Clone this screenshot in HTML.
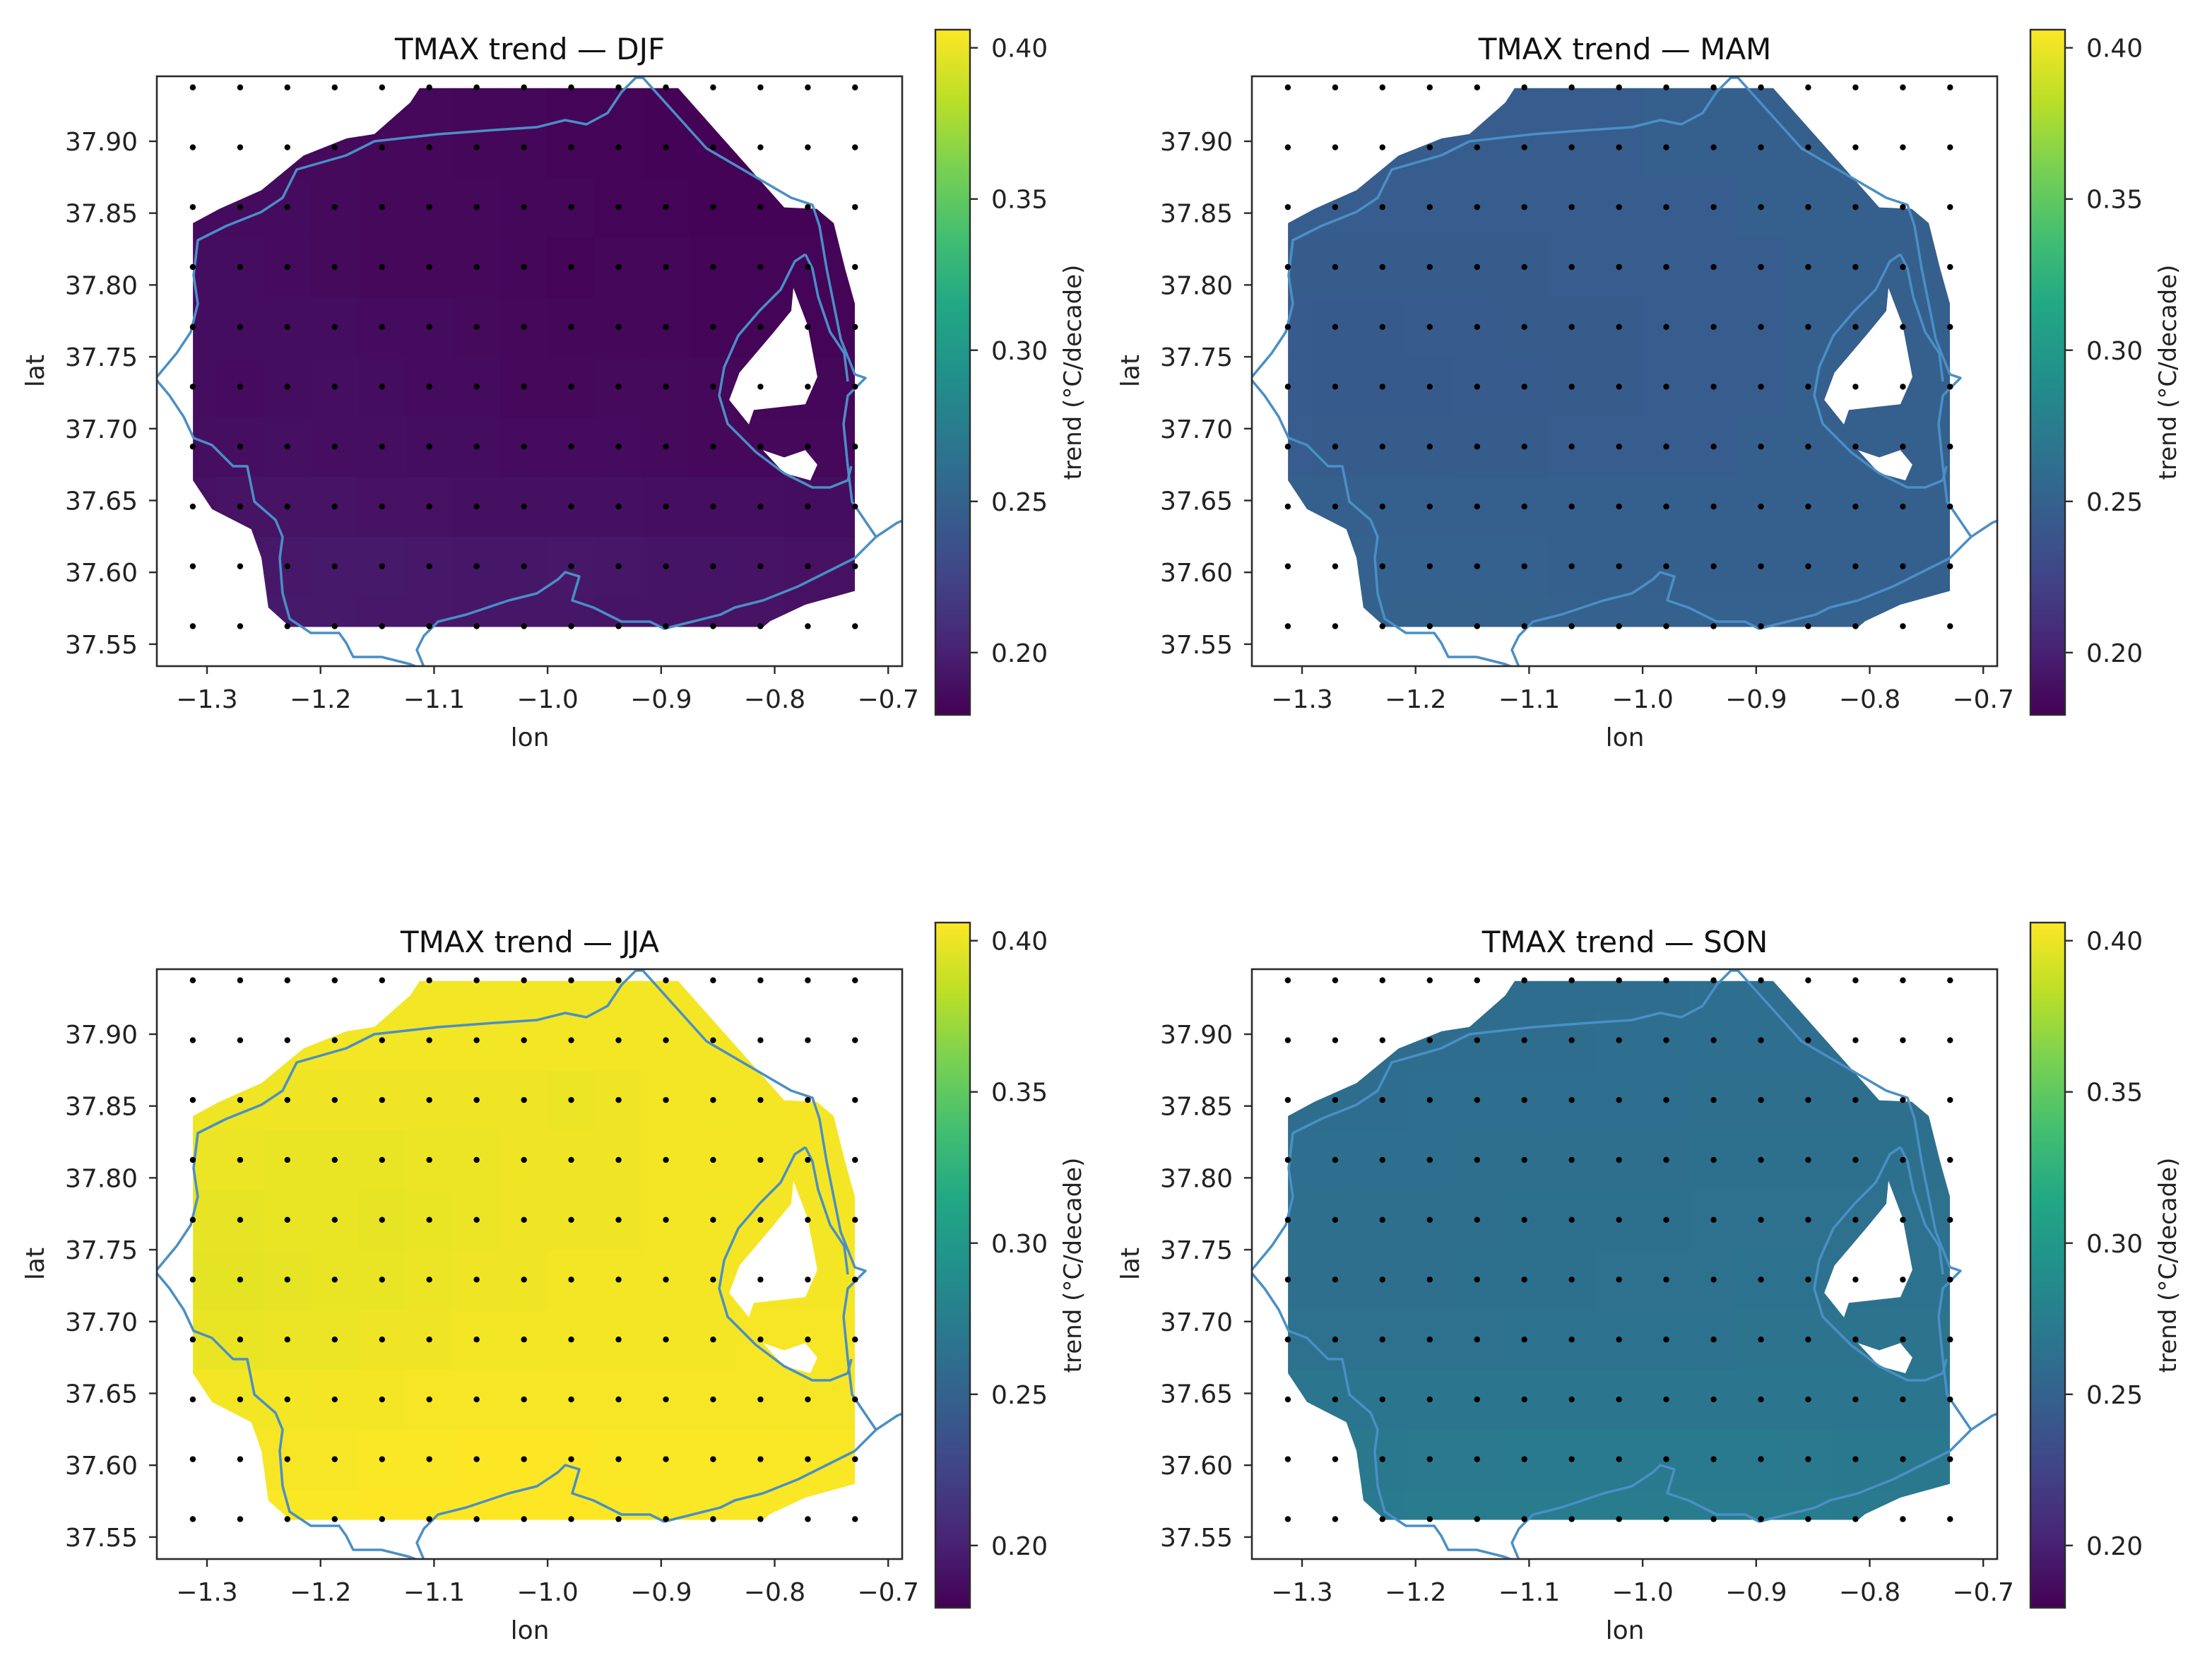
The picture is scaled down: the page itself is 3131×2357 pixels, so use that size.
<!DOCTYPE html>
<html><head><meta charset="utf-8"><style>
html,body{margin:0;padding:0;background:#fff;}
svg{display:block;font-family:"DejaVu Sans","Liberation Sans",sans-serif;}
</style></head><body>
<svg id="fig" width="3131" height="2357" viewBox="0 0 3131 2357" xmlns="http://www.w3.org/2000/svg"></svg>
<script>
// ---- data ----
const seasons = ["DJF","MAM","JJA","SON"];
const gridLons = [-1.3125,-1.2708,-1.2292,-1.1875,-1.1458,-1.1042,-1.0625,-1.0208,-0.9792,-0.9375,-0.8958,-0.8542,-0.8125,-0.7708,-0.7292];
const gridLats = [37.5625,37.6042,37.6458,37.6875,37.7292,37.7708,37.8125,37.8542,37.8958,37.9375];
const xTicks = [-1.3,-1.2,-1.1,-1.0,-0.9,-0.8,-0.7];
const xTickLabels = ["\u22121.3","\u22121.2","\u22121.1","\u22121.0","\u22120.9","\u22120.8","\u22120.7"];
const yTicks = [37.55,37.60,37.65,37.70,37.75,37.80,37.85,37.90];
const yTickLabels = ["37.55","37.60","37.65","37.70","37.75","37.80","37.85","37.90"];
const cbTicks = [0.20,0.25,0.30,0.35,0.40];
const cbTickLabels = ["0.20","0.25","0.30","0.35","0.40"];
const vmin = 0.1794, vmax = 0.406;
// trend values per season: rows bottom (lat 37.5625) to top, 15 columns each
const valsDJF = [
[0.194,0.194,0.195,0.195,0.194,0.194,0.193,0.193,0.193,0.192,0.192,0.191,0.191,0.190,0.190],
[0.192,0.193,0.194,0.195,0.195,0.194,0.193,0.193,0.194,0.193,0.192,0.192,0.191,0.190,0.190],
[0.190,0.191,0.191,0.191,0.190,0.190,0.189,0.189,0.189,0.189,0.188,0.188,0.188,0.187,0.187],
[0.188,0.188,0.189,0.188,0.188,0.187,0.187,0.186,0.186,0.186,0.185,0.184,0.184,0.184,0.184],
[0.187,0.186,0.187,0.188,0.187,0.186,0.186,0.184,0.184,0.185,0.185,0.184,0.183,0.183,0.183],
[0.187,0.187,0.187,0.187,0.186,0.186,0.185,0.184,0.183,0.183,0.183,0.182,0.182,0.182,0.182],
[0.187,0.187,0.186,0.185,0.184,0.184,0.184,0.183,0.182,0.183,0.183,0.182,0.182,0.182,0.182],
[0.186,0.186,0.186,0.185,0.184,0.184,0.184,0.183,0.183,0.182,0.182,0.181,0.181,0.181,0.181],
[0.185,0.185,0.185,0.185,0.184,0.184,0.183,0.183,0.182,0.182,0.181,0.181,0.181,0.181,0.181],
[0.185,0.185,0.185,0.184,0.184,0.184,0.183,0.183,0.182,0.182,0.181,0.181,0.181,0.181,0.181]];
const valsMAM = [
[0.250,0.250,0.250,0.250,0.250,0.250,0.249,0.249,0.249,0.249,0.249,0.249,0.249,0.249,0.249],
[0.249,0.249,0.249,0.249,0.249,0.249,0.248,0.248,0.248,0.248,0.248,0.248,0.248,0.248,0.248],
[0.248,0.248,0.248,0.248,0.247,0.247,0.247,0.247,0.247,0.247,0.247,0.247,0.248,0.248,0.248],
[0.246,0.245,0.245,0.245,0.245,0.245,0.246,0.246,0.246,0.246,0.247,0.247,0.247,0.247,0.247],
[0.244,0.243,0.243,0.243,0.244,0.244,0.245,0.245,0.246,0.246,0.246,0.247,0.247,0.247,0.247],
[0.244,0.243,0.243,0.244,0.244,0.245,0.245,0.245,0.246,0.246,0.246,0.247,0.247,0.247,0.247],
[0.245,0.245,0.245,0.245,0.245,0.245,0.246,0.246,0.246,0.246,0.246,0.247,0.247,0.247,0.247],
[0.246,0.246,0.246,0.246,0.246,0.246,0.246,0.246,0.246,0.246,0.247,0.247,0.247,0.247,0.247],
[0.246,0.246,0.246,0.246,0.246,0.246,0.246,0.246,0.247,0.247,0.247,0.247,0.247,0.247,0.247],
[0.246,0.246,0.246,0.246,0.246,0.246,0.246,0.246,0.247,0.247,0.247,0.247,0.247,0.247,0.247]];
const valsJJA = [
[0.405,0.405,0.405,0.405,0.406,0.406,0.406,0.406,0.406,0.406,0.405,0.405,0.405,0.405,0.405],
[0.404,0.404,0.404,0.404,0.405,0.405,0.406,0.406,0.406,0.405,0.405,0.405,0.405,0.405,0.405],
[0.402,0.402,0.402,0.403,0.403,0.404,0.404,0.404,0.404,0.404,0.404,0.404,0.404,0.404,0.404],
[0.399,0.399,0.400,0.400,0.401,0.401,0.402,0.402,0.403,0.403,0.403,0.403,0.404,0.404,0.404],
[0.397,0.397,0.398,0.399,0.399,0.400,0.401,0.401,0.402,0.402,0.402,0.403,0.403,0.403,0.403],
[0.398,0.398,0.399,0.399,0.398,0.399,0.400,0.401,0.401,0.401,0.402,0.402,0.403,0.403,0.403],
[0.400,0.400,0.399,0.399,0.399,0.400,0.400,0.401,0.401,0.401,0.402,0.403,0.403,0.403,0.403],
[0.401,0.401,0.401,0.401,0.401,0.401,0.401,0.401,0.400,0.401,0.402,0.402,0.403,0.403,0.403],
[0.402,0.402,0.402,0.402,0.402,0.402,0.402,0.402,0.402,0.402,0.402,0.403,0.403,0.403,0.403],
[0.402,0.402,0.402,0.402,0.402,0.402,0.402,0.402,0.402,0.402,0.403,0.403,0.403,0.403,0.403]];
const valsSON = [
[0.272,0.272,0.272,0.273,0.273,0.273,0.274,0.274,0.274,0.274,0.274,0.273,0.272,0.271,0.271],
[0.270,0.270,0.270,0.271,0.271,0.272,0.272,0.272,0.272,0.272,0.272,0.271,0.270,0.270,0.270],
[0.267,0.267,0.267,0.268,0.268,0.268,0.268,0.268,0.268,0.268,0.268,0.268,0.268,0.268,0.268],
[0.264,0.264,0.264,0.264,0.264,0.265,0.265,0.265,0.265,0.265,0.266,0.266,0.266,0.266,0.266],
[0.262,0.262,0.262,0.262,0.263,0.263,0.263,0.264,0.264,0.264,0.265,0.265,0.265,0.265,0.265],
[0.262,0.262,0.262,0.262,0.262,0.263,0.263,0.263,0.263,0.264,0.264,0.264,0.264,0.264,0.264],
[0.261,0.261,0.261,0.261,0.262,0.262,0.262,0.262,0.262,0.263,0.263,0.263,0.263,0.263,0.263],
[0.260,0.260,0.260,0.261,0.261,0.261,0.261,0.261,0.261,0.262,0.262,0.262,0.262,0.262,0.262],
[0.260,0.260,0.260,0.260,0.260,0.260,0.260,0.261,0.261,0.261,0.261,0.261,0.261,0.261,0.261],
[0.260,0.260,0.260,0.260,0.260,0.260,0.260,0.260,0.260,0.261,0.261,0.261,0.261,0.261,0.261]];
const seasonVals = [valsDJF, valsMAM, valsJJA, valsSON];

// region outline (lon, lat) and holes
const regionOuter = [[-1.1127,37.937],[-0.885,37.937],[-0.7916,37.854],[-0.763,37.853],[-0.748,37.843],[-0.738,37.8115],[-0.7294,37.787],[-0.7294,37.587],[-0.773,37.5775],[-0.804,37.566],[-0.810,37.562],[-1.227,37.562],[-1.246,37.5755],[-1.252,37.610],[-1.261,37.630],[-1.2956,37.644],[-1.3124,37.664],[-1.3124,37.843],[-1.289,37.853],[-1.252,37.866],[-1.215,37.890],[-1.177,37.902],[-1.1525,37.905],[-1.121,37.927]];
const regionHole1 = [[-0.7835,37.798],[-0.771,37.772],[-0.7624,37.736],[-0.773,37.717],[-0.8184,37.713],[-0.8227,37.703],[-0.840,37.720],[-0.831,37.739],[-0.802,37.766],[-0.7854,37.782]];
const regionHole2 = [[-0.8103,37.685],[-0.7916,37.680],[-0.773,37.685],[-0.7624,37.675],[-0.7686,37.664],[-0.7916,37.669]];

const coastLines = [
 [[220,536],[250,500],[270,470],[280,430],[274,390],[280,340],[320,320],[370,300],[400,280],[420,240],[490,220],[530,200],[620,190],[700,184],[760,180],[800,170],[830,176],[860,160],[880,130],[900,110],[910,110],[1000,210],[1120,280],[1150,290],[1160,320],[1170,380],[1180,430],[1190,480],[1210,530],[1225,535],[1200,560],[1194,600],[1200,660],[1206,710],[1240,760],[1270,740],[1280,736]],
 [[1140,360],[1125,370],[1105,410],[1075,440],[1045,475],[1025,520],[1018,560],[1030,600],[1070,640],[1110,670],[1150,690],[1175,690],[1200,680],[1205,660]],
 [[1140,360],[1150,380],[1158,420],[1175,470],[1195,500],[1200,540]],
 [[220,536],[240,560],[260,590],[274,620],[300,630],[330,660],[350,660],[360,710],[390,736],[400,760],[396,790],[400,840],[410,876],[440,896],[480,896],[490,910],[500,930],[540,930],[580,940],[590,944]],
 [[600,944],[590,920],[600,900],[620,880],[660,870],[720,850],[760,840],[790,820],[800,810],[820,816],[810,850],[840,860],[880,880],[920,880],[940,890],[980,880],[1020,870],[1040,860],[1080,850],[1130,830],[1170,810],[1210,790],[1240,760]]
];

// viridis
const vir = ["#440154","#482475","#414487","#355f8d","#2a788e","#21918c","#22a884","#44bf70","#7ad151","#bddf26","#fde725"];
function hex(c){return [parseInt(c.slice(1,3),16),parseInt(c.slice(3,5),16),parseInt(c.slice(5,7),16)];}
function viridis(t){t=Math.max(0,Math.min(1,t));const p=t*10,i=Math.min(9,Math.floor(p)),f=p-i;const a=hex(vir[i]),b=hex(vir[i+1]);
 return "rgb("+a.map((v,k)=>Math.round(v+(b[k]-v)*f)).join(",")+")";}

const NS="http://www.w3.org/2000/svg";
const svg=document.getElementById("fig");
function mk(tag,attrs,parent){const e=document.createElementNS(NS,tag);for(const k in attrs)e.setAttribute(k,attrs[k]);(parent||svg).appendChild(e);return e;}

// axis geometry
const AX={l:222,r:1277,t:108,b:943};
function xs(lon){return 293+(lon+1.3)*1607;}
function ys(lat){return 200+(37.90-lat)*2034;}
const CB={l:1324,r:1373,t:42,b:1012};
function cy(v){return CB.b-(v-vmin)/(vmax-vmin)*(CB.b-CB.t);}
const dLon=(gridLons[1]-gridLons[0])/2, dLat=(gridLats[1]-gridLats[0])/2;

const defs=mk("defs",{});
const grad=mk("linearGradient",{id:"vgrad",x1:"0",y1:"1",x2:"0",y2:"0"},defs);
vir.forEach((c,i)=>mk("stop",{offset:(i/10).toString(),"stop-color":c},grad));

function polyD(pts){return "M"+pts.map(p=>xs(p[0]).toFixed(1)+","+ys(p[1]).toFixed(1)).join("L")+"Z";}
const maskD=polyD(regionOuter)+polyD(regionHole1)+polyD(regionHole2);
const cp=mk("clipPath",{id:"regionclip"},defs);
mk("path",{d:maskD,"clip-rule":"evenodd"},cp);
const ac=mk("clipPath",{id:"axclip"},defs);
mk("rect",{x:AX.l,y:AX.t,width:AX.r-AX.l,height:AX.b-AX.t},ac);

const offsets=[[0,0],[1550,0],[0,1264],[1550,1264]];
seasons.forEach((s,si)=>{
 const [ox,oy]=offsets[si];
 const g=mk("g",{transform:`translate(${ox},${oy})`});
 
 
 const cg=mk("g",{"clip-path":"url(#regionclip)"},g);
 
 
 const vals=seasonVals[si];
 gridLats.forEach((lat,i)=>gridLons.forEach((lon,j)=>{
  const x0=xs(lon-dLon),x1=xs(lon+dLon),y0=ys(lat+dLat),y1=ys(lat-dLat);
  const r=mk("rect",{x:x0-0.5,y:y0-0.5,width:x1-x0+1,height:y1-y0+1,fill:viridis((vals[i][j]-vmin)/(vmax-vmin))},cg);
  
  
 }));
 const coast=mk("g",{"clip-path":"url(#axclip)",fill:"none",stroke:"#4a8fc5","stroke-width":"3.5","stroke-linejoin":"round"},g);
 
 
 coastLines.forEach(l=>mk("path",{d:"M"+l.map(p=>p.join(",")).join("L")},coast));
 const dg=mk("g",{fill:"#000"},g);
 
 
 gridLats.forEach(lat=>gridLons.forEach(lon=>{
  const c=mk("circle",{cx:xs(lon),cy:ys(lat),r:4.2},dg);
  
  
 }));
 const sp=mk("rect",{x:AX.l,y:AX.t,width:AX.r-AX.l,height:AX.b-AX.t,fill:"none",stroke:"#2b2b2b","stroke-width":"2.6"},g);
 
 
 xTicks.forEach((v,k)=>{
  const x=xs(v);
  mk("line",{x1:x,y1:AX.b,x2:x,y2:AX.b+11,stroke:"#2b2b2b","stroke-width":"2.4"},g);
  const t=mk("text",{x:x,y:1002,"font-size":"36","text-anchor":"middle",fill:"#222"},g);
  t.textContent=xTickLabels[k];
  
  
 });
 yTicks.forEach((v,k)=>{
  const y=ys(v);
  mk("line",{x1:AX.l-11,y1:y,x2:AX.l,y2:y,stroke:"#2b2b2b","stroke-width":"2.4"},g);
  const t=mk("text",{x:195,y:y+13,"font-size":"36","text-anchor":"end",fill:"#222"},g);
  t.textContent=yTickLabels[k];
  
  
 });
 const xl=mk("text",{x:750,y:1056,"font-size":"36","text-anchor":"middle",fill:"#222"},g);
 xl.textContent="lon";
 
 
 const yl=mk("text",{x:0,y:0,"font-size":"36","text-anchor":"middle",fill:"#222",transform:"translate(62,525) rotate(-90)"},g);
 yl.textContent="lat";
 
 
 const ti=mk("text",{x:750,y:84,"font-size":"42","text-anchor":"middle",fill:"#111"},g);
 ti.textContent="TMAX trend \u2014 "+s;
 
 
 const cb=mk("rect",{x:CB.l,y:CB.t,width:CB.r-CB.l,height:CB.b-CB.t,fill:"url(#vgrad)",stroke:"#2b2b2b","stroke-width":"2.4"},g);
 
 
 cbTicks.forEach((v,k)=>{
  const y=cy(v);
  mk("line",{x1:CB.r,y1:y,x2:CB.r+11,y2:y,stroke:"#2b2b2b","stroke-width":"2.4"},g);
  const t=mk("text",{x:1403,y:y+13,"font-size":"36",fill:"#222"},g);
  t.textContent=cbTickLabels[k];
  
  
 });
 const cl=mk("text",{x:0,y:0,"font-size":"34","text-anchor":"middle",fill:"#222",transform:"translate(1530,527) rotate(-90)"},g);
 cl.textContent="trend (\u00b0C/decade)";
 
 
});
</script>
</body></html>
